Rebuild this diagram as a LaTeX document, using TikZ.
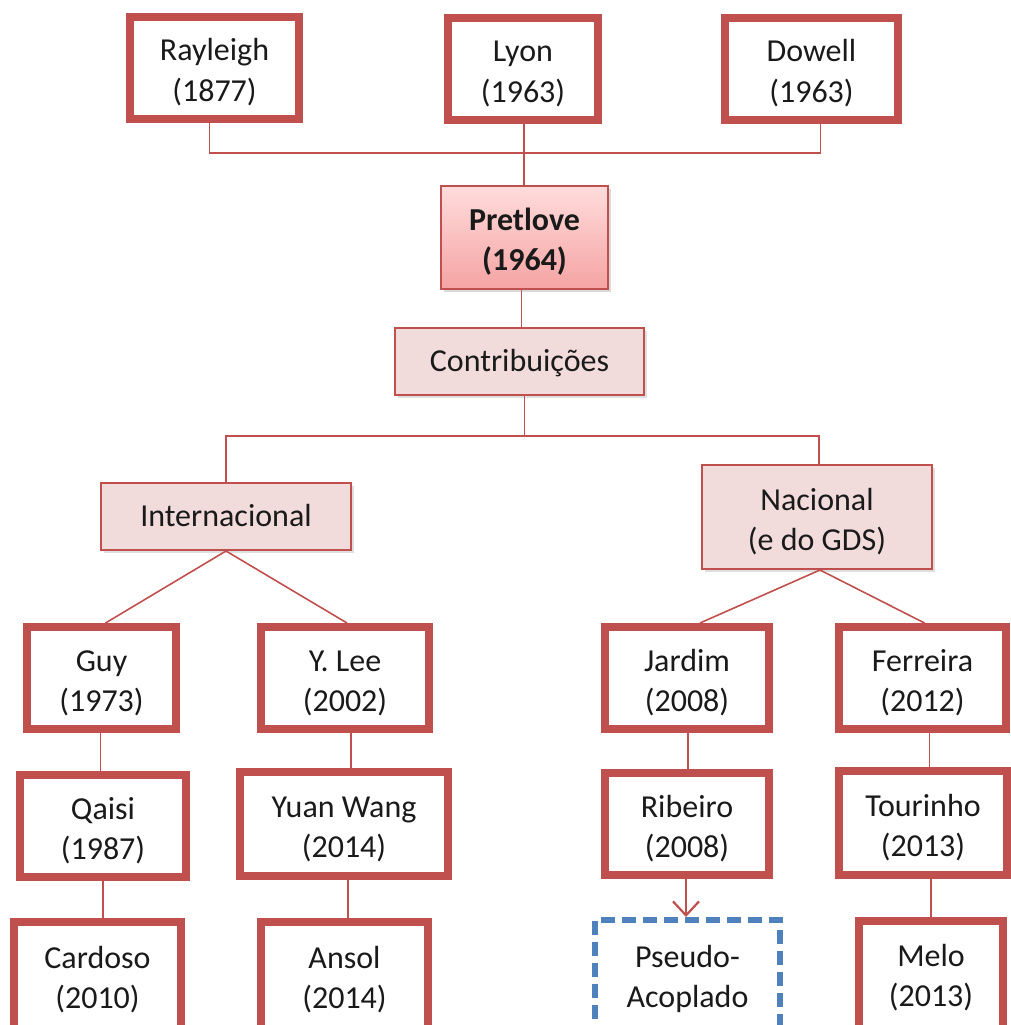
\documentclass[tikz,border=0pt]{standalone}
\usepackage{fontspec}
\setmainfont{Carlito}
\usetikzlibrary{arrows.meta,shadows}
\definecolor{boxred}{HTML}{C0504D}
\definecolor{lightfill}{HTML}{F2DCDB}
\definecolor{pinktop}{HTML}{FFDCDC}
\definecolor{pinkbot}{HTML}{F5A3A3}
\definecolor{dashblue}{HTML}{4F81BD}
\definecolor{txt}{HTML}{1A1A1A}
\newcommand\bx[2][-5pt]{\raisebox{#1}[\height][\depth]{\begin{tabular}{@{}c@{}}#2\end{tabular}}}
\tikzset{
  base/.style={inner sep=0pt, text=txt, font=\fontsize{32}{40}\selectfont},
  author/.style={base, draw=boxred, line width=8pt, fill=white},
  soft/.style={base, draw=boxred, line width=2pt, fill=lightfill,
    drop shadow={shadow xshift=3pt, shadow yshift=-3pt, opacity=0.25}},
  main/.style={base, draw=boxred, line width=2pt, top color=pinktop, bottom color=pinkbot,
    font=\fontsize{32}{40}\selectfont\bfseries,
    drop shadow={shadow xshift=3pt, shadow yshift=-3pt, opacity=0.3}},
  future/.style={base, draw=dashblue, line width=6pt, dash pattern=on 14pt off 7pt, fill=white},
  link/.style={draw=boxred, line width=1.6pt},
  arrowlink/.style={link, -{Straight Barb[length=14pt,width=26pt,line width=2.2pt]}},
}
\begin{document}
\begin{tikzpicture}[x=1pt,y=-1pt]
\useasboundingbox (0,0) rectangle (1011,1025);
\clip (0,0) rectangle (1011,1025);
% top row
\node[author, minimum width=169pt, minimum height=102pt] (ray) at (214.5,68) {\bx{Rayleigh\\(1877)}};
\node[author, minimum width=150pt, minimum height=102pt] (lyon) at (523,69) {\bx{Lyon\\(1963)}};
\node[author, minimum width=173pt, minimum height=102pt] (dowell) at (811.5,69) {\bx{Dowell\\(1963)}};
% center
\node[main, minimum width=167pt, minimum height=103pt] (pret) at (524.5,237.5) {\bx{Pretlove\\(1964)}};
\node[soft, minimum width=249pt, minimum height=67pt] (contrib) at (519.5,361.5) {\bx[-2pt]{Contribuições}};
\node[soft, minimum width=250pt, minimum height=67pt] (intl) at (226,516.5) {\bx[-2pt]{Internacional}};
\node[soft, minimum width=230pt, minimum height=104pt] (nac) at (817,517) {\bx{Nacional\\(e do GDS)}};
% row 3
\node[author, minimum width=149pt, minimum height=102pt] (guy) at (101.5,678) {\bx{Guy\\(1973)}};
\node[author, minimum width=168pt, minimum height=102pt] (ylee) at (345,678) {\bx{Y. Lee\\(2002)}};
\node[author, minimum width=164pt, minimum height=102pt] (jardim) at (687,678) {\bx{Jardim\\(2008)}};
\node[author, minimum width=167pt, minimum height=102pt] (ferreira) at (922.5,678) {\bx{Ferreira\\(2012)}};
% row 4
\node[author, minimum width=166pt, minimum height=102pt] (qaisi) at (103,826) {\bx{Qaisi\\(1987)}};
\node[author, minimum width=208pt, minimum height=104pt] (yuan) at (344,824) {\bx{Yuan Wang\\(2014)}};
\node[author, minimum width=164pt, minimum height=102pt] (ribeiro) at (687,824) {\bx{Ribeiro\\(2008)}};
\node[author, minimum width=168pt, minimum height=104pt] (tourinho) at (923,823) {\bx{Tourinho\\(2013)}};
% row 5 (cut off by the lower edge)
\node[author, minimum width=167pt, minimum height=110pt] (cardoso) at (97.5,977) {\bx[-3pt]{Cardoso\\(2010)}};
\node[author, minimum width=167pt, minimum height=110pt] (ansol) at (344.5,977) {\bx[-3pt]{Ansol\\(2014)}};
\node[future, minimum width=185pt, minimum height=112pt] (pseudo) at (687.5,976) {\bx[-3pt]{Pseudo-\\Acoplado}};
\node[author, minimum width=144pt, minimum height=110pt] (melo) at (931,976) {\bx[-2pt]{Melo\\(2013)}};
% connectors: top
\coordinate (topbar) at (0,153);
\draw[link] ([xshift=-5pt]ray.south) -- ([xshift=-5pt]ray.south |- topbar) -- ([xshift=9pt]dowell.south |- topbar) -- ([xshift=9pt]dowell.south);
\draw[link] ([xshift=1pt]lyon.south) -- ([xshift=1pt]lyon.south |- pret.north);
\draw[link] ([xshift=-3pt]pret.south) -- ([xshift=-3pt]pret.south |- contrib.north);
% connectors: split
\coordinate (midbar) at (0,436);
\draw[link] ([xshift=5pt]contrib.south) -- ([xshift=5pt]contrib.south |- midbar);
\draw[link] (intl.north) -- (intl.north |- midbar) -- ([xshift=2pt]nac.north |- midbar) -- ([xshift=2pt]nac.north);
% connectors: diagonal
\draw[link] (intl.south) -- ([xshift=4pt]guy.north);
\draw[link] (intl.south) -- ([xshift=2pt]ylee.north);
\draw[link] ([xshift=3pt]nac.south) -- ([xshift=13pt]jardim.north);
\draw[link] ([xshift=3pt]nac.south) -- ([xshift=2pt]ferreira.north);
% connectors: vertical chains
\draw[link] ([xshift=-1pt]guy.south) -- ([xshift=-1pt]guy.south |- qaisi.north);
\draw[link] (qaisi.south) -- (qaisi.south |- cardoso.north);
\draw[link] ([xshift=6pt]ylee.south) -- ([xshift=6pt]ylee.south |- yuan.north);
\draw[link] ([xshift=4pt]yuan.south) -- ([xshift=4pt]yuan.south |- ansol.north);
\draw[link] ([xshift=1pt]jardim.south) -- ([xshift=1pt]jardim.south |- ribeiro.north);
\draw[arrowlink] ([xshift=-1pt]ribeiro.south) -- ([xshift=-1pt]ribeiro.south |- pseudo.north);
\draw[link] ([xshift=7pt]ferreira.south) -- ([xshift=7pt]ferreira.south |- tourinho.north);
\draw[link] (tourinho.south -| melo.north) -- (melo.north);
\end{tikzpicture}
\end{document}
